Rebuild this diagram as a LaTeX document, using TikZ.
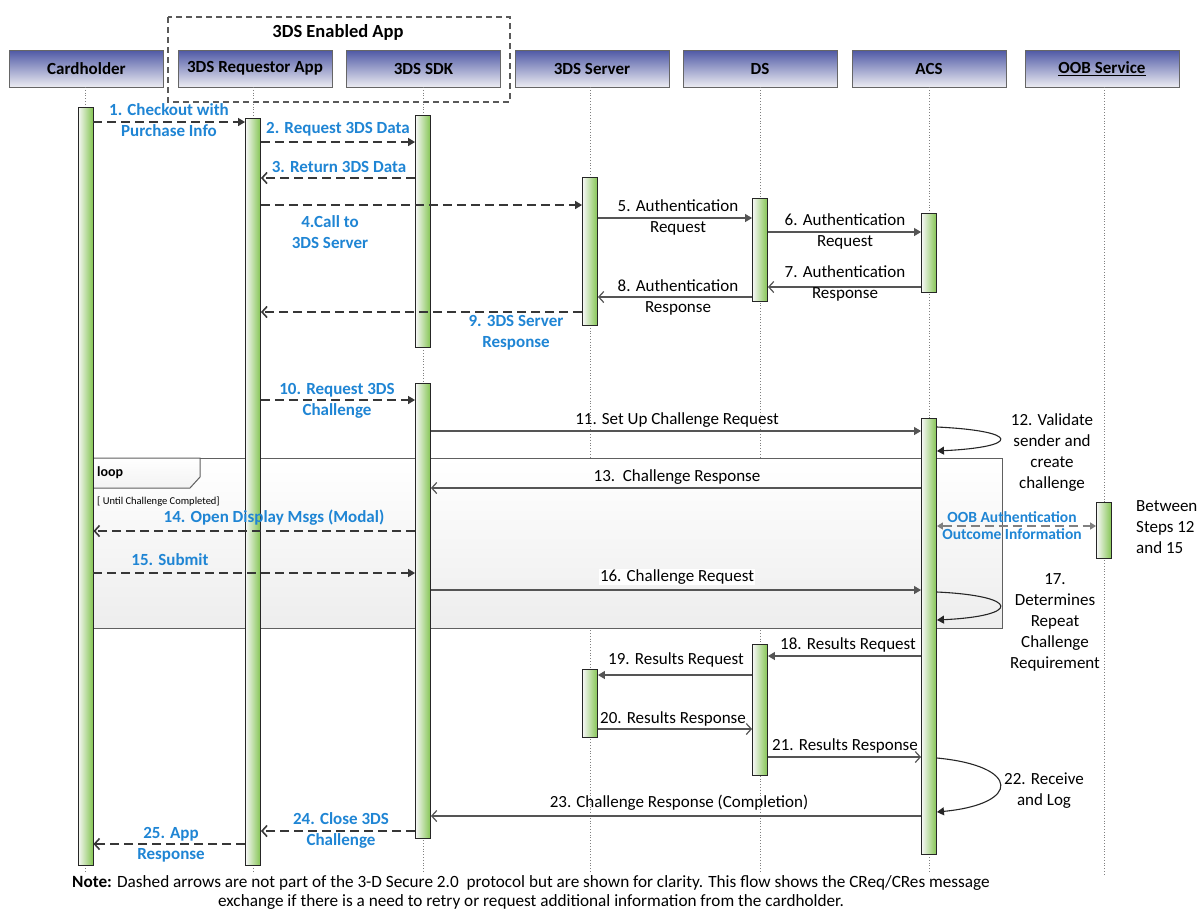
\documentclass[tikz,border=0pt]{standalone}
\usepackage{fontspec}
\setmainfont{Carlito}
\usetikzlibrary{arrows.meta}
\definecolor{lblue}{RGB}{31,133,212}
\definecolor{hdrtop}{RGB}{78,88,165}
\definecolor{hdrbot}{RGB}{236,236,242}
\definecolor{actgreen}{RGB}{132,197,82}
\definecolor{msgline}{RGB}{85,85,85}
\definecolor{dline}{RGB}{55,55,55}
\tikzset{
 hdr/.style={draw=gray!80!black, line width=0.8pt, top color=hdrtop, bottom color=hdrbot, minimum width=154pt, minimum height=37pt, inner sep=0pt, font=\fontsize{17}{19}\selectfont\bfseries},
 lifeline/.style={gray, dotted, line width=0.8pt},
 act/.style={draw=gray!30!black, line width=0.9pt, left color=gray!6, right color=actgreen, minimum width=15pt, inner sep=0pt, anchor=north},
 smsg/.style={draw=msgline, line width=1.2pt},
 dmsg/.style={draw=dline, line width=1.6pt, dash pattern=on 9pt off 5pt},
 ftip/.style={-{Triangle[length=7pt,width=8pt]}},
 otip/.style={-{Straight Barb[length=5pt,width=11pt]}},
 lbl/.style={font=\fontsize{17}{21}\selectfont, align=center, inner sep=0pt},
 blbl/.style={font=\fontsize{17}{21}\selectfont\bfseries, text=lblue, align=center, inner sep=0pt},
}
\newcommand{\actbar}[4]{\node[act, minimum height={#4-#3}] (#1) at (#2,#3) {};}
\begin{document}
\begin{tikzpicture}[x=1pt,y=-1pt]
\useasboundingbox (0,0) rectangle (1201,911);
% group box
\draw[gray!70!black, line width=1.4pt, dash pattern=on 6pt off 4pt] (168,17) rectangle (510,102);
\node[font=\fontsize{18.5}{21}\selectfont\bfseries] (grp) at (338,32) {3DS Enabled App};
% headers
\node[hdr] (hCard) at (86.5,68.5) {Cardholder};
\node[hdr] (hReq) at (255,68.5) {3DS Requestor App};
\node[hdr] (hSdk) at (423.5,68.5) {3DS SDK};
\node[hdr] (hSrv) at (592,68.5) {3DS Server};
\node[hdr] (hDs) at (760,68.5) {DS};
\node[hdr] (hAcs) at (929,68.5) {ACS};
\node[hdr] (hOob) at (1102,68.5) {\underline{OOB Service}};
% lifelines
\draw[lifeline] (85,87) -- (85,872);
\draw[lifeline] (253,87) -- (253,872);
\draw[lifeline] (423,87) -- (423,872);
\draw[lifeline] (590,87) -- (590,872);
\draw[lifeline] (760,87) -- (760,872);
\draw[lifeline] (929,87) -- (929,872);
\draw[lifeline] (1104,87) -- (1104,875);
% loop frame
\draw[gray!75!black, line width=1pt, top color=white, bottom color=gray!14] (91,458) rectangle (1002,628);
\draw[gray!75!black, line width=1pt, top color=white, bottom color=gray!10] (91,458) -- (200,458) -- (200,477) -- (190,488) -- (91,488) -- cycle;
\node[anchor=west, inner sep=0pt, font=\fontsize{14}{16}\selectfont\bfseries] (loopt) at (97,473) {loop};
\node[anchor=west, inner sep=0pt, font=\fontsize{10.5}{12}\selectfont] (guard) at (97,502) {[ Until Challenge Completed]};
% activation bars
\actbar{cardA}{85.5}{107}{865}
\actbar{reqA}{253}{118}{865}
\actbar{sdkA}{423}{115}{347}
\actbar{sdkB}{423}{383}{838}
\actbar{srvA}{590}{177}{325}
\actbar{srvB}{590}{669}{737}
\actbar{dsA}{760}{198}{301}
\actbar{dsB}{760}{644}{775}
\actbar{acsA}{929}{213}{292}
\actbar{acsB}{929}{418}{854}
\actbar{oobA}{1104}{502}{558}
% messages
\draw[dmsg, ftip] (cardA.east |- 0,122) -- (reqA.west |- 0,122);
\draw[dmsg, ftip] (reqA.east |- 0,142) -- (sdkA.west |- 0,142);
\draw[dmsg, otip] (sdkA.west |- 0,178) -- (reqA.east |- 0,178);
\draw[dmsg, ftip] (reqA.east |- 0,205) -- (srvA.west |- 0,205);
\draw[smsg, ftip] (srvA.east |- 0,218) -- (dsA.west |- 0,218);
\draw[smsg, ftip] (dsA.east |- 0,232) -- (acsA.west |- 0,232);
\draw[smsg, otip] (acsA.west |- 0,287) -- (dsA.east |- 0,287);
\draw[smsg, otip] (dsA.west |- 0,297) -- (srvA.east |- 0,297);
\draw[dmsg, otip] (srvA.west |- 0,312) -- (reqA.east |- 0,312);
\draw[dmsg, ftip] (reqA.east |- 0,400) -- (sdkB.west |- 0,400);
\draw[smsg, ftip] (sdkB.east |- 0,431) -- (acsB.west |- 0,431);
\draw[draw=black!85, line width=1.1pt, ftip] (acsB.east |- 0,427) .. controls (1021,431) and (1021,447) .. (acsB.east |- 0,451);
\draw[smsg, otip] (acsB.west |- 0,488) -- (sdkB.east |- 0,488);
\draw[dmsg, otip] (sdkB.west |- 0,531) -- (cardA.east |- 0,531);
\draw[dmsg, ftip] (cardA.east |- 0,573) -- (sdkB.west |- 0,573);
\draw[draw=gray, line width=1.4pt, dash pattern=on 9pt off 5pt, {Triangle[length=6pt,width=7pt]}-{Triangle[length=6pt,width=7pt]}] (acsB.east |- 0,526) -- (oobA.west |- 0,526);
\draw[smsg, ftip] (sdkB.east |- 0,590) -- (acsB.west |- 0,590);
\draw[draw=black!85, line width=1.1pt, ftip] (acsB.east |- 0,592) .. controls (1021,596) and (1021,616) .. (acsB.east |- 0,620);
\draw[smsg, ftip] (acsB.west |- 0,656) -- (dsB.east |- 0,656);
\draw[smsg, ftip] (dsB.west |- 0,675) -- (srvB.east |- 0,675);
\draw[smsg, otip] (srvB.east |- 0,729) -- (dsB.west |- 0,729);
\draw[smsg, otip] (dsB.east |- 0,757) -- (acsB.west |- 0,757);
\draw[draw=black!85, line width=1.1pt, ftip] (acsB.east |- 0,758) .. controls (1021,766) and (1021,804) .. (acsB.east |- 0,812);
\draw[smsg, otip] (acsB.west |- 0,816) -- (sdkB.east |- 0,816);
\draw[dmsg, otip] (sdkB.west |- 0,831) -- (reqA.east |- 0,831);
\draw[dmsg, otip] (reqA.west |- 0,844) -- (cardA.east |- 0,844);
% labels
\node[blbl] (l1) at (169,120.5) {1. Checkout with\\Purchase Info};
\node[blbl] (l2) at (338,129) {2. Request 3DS Data};
\node[blbl] (l3) at (339,167) {3. Return 3DS Data};
\node[blbl] (l4) at (330,232) {4.Call to\\3DS Server};
\node[lbl] (l5) at (678,217.5) {5. Authentication\\Request};
\node[lbl] (l6) at (845,231.5) {6. Authentication\\Request};
\node[lbl] (l7) at (845,283.5) {7. Authentication\\Response};
\node[lbl] (l8) at (678,297.5) {8. Authentication\\Response};
\node[blbl] (l9) at (516,333) {9. 3DS Server\\Response};
\node[blbl] (l10) at (337,400.5) {10. Request 3DS\\Challenge};
\node[lbl] (l11) at (677,420) {11. Set Up Challenge Request};
\node[lbl] (l12) at (1052,452.5) {12. Validate\\sender and\\create\\challenge};
\node[lbl] (l13) at (677,477) {13.\ \ Challenge Response};
\node[blbl] (l14) at (274,518) {14. Open Display Msgs (Modal)};
\node[blbl] (l15) at (170,560) {15. Submit};
\node[lbl, fill=white, inner sep=1pt] (l16) at (677,577) {16. Challenge Request};
\node[blbl, font=\fontsize{15.5}{17}\selectfont\bfseries] (loob) at (1012,525.5) {OOB Authentication\\Outcome Information};
\node[lbl, anchor=west, align=left] (lbtw) at (1136,527) {Between\\Steps 12\\and 15};
\node[lbl] (l17) at (1055,622.5) {17.\\Determines\\Repeat\\Challenge\\Requirement};
\node[lbl] (l18) at (848,645) {18. Results Request};
\node[lbl] (l19) at (676,660) {19. Results Request};
\node[lbl] (l20) at (673,719) {20. Results Response};
\node[lbl] (l21) at (845,746) {21. Results Response};
\node[lbl] (l22) at (1044,790.5) {22. Receive\\and Log};
\node[lbl] (l23) at (679,803) {23. Challenge Response (Completion)};
\node[blbl] (l24) at (341,830.5) {24. Close 3DS\\Challenge};
\node[blbl] (l25) at (171,844.5) {25. App\\Response};
\node[lbl, font=\fontsize{17.2}{19}\selectfont] (note) at (531,892) {\textbf{Note:} Dashed arrows are not part of the 3-D Secure 2.0\ \ protocol but are shown for clarity. This flow shows the CReq/CRes message\\exchange if there is a need to retry or request additional information from the cardholder.};
\end{tikzpicture}
\end{document}
